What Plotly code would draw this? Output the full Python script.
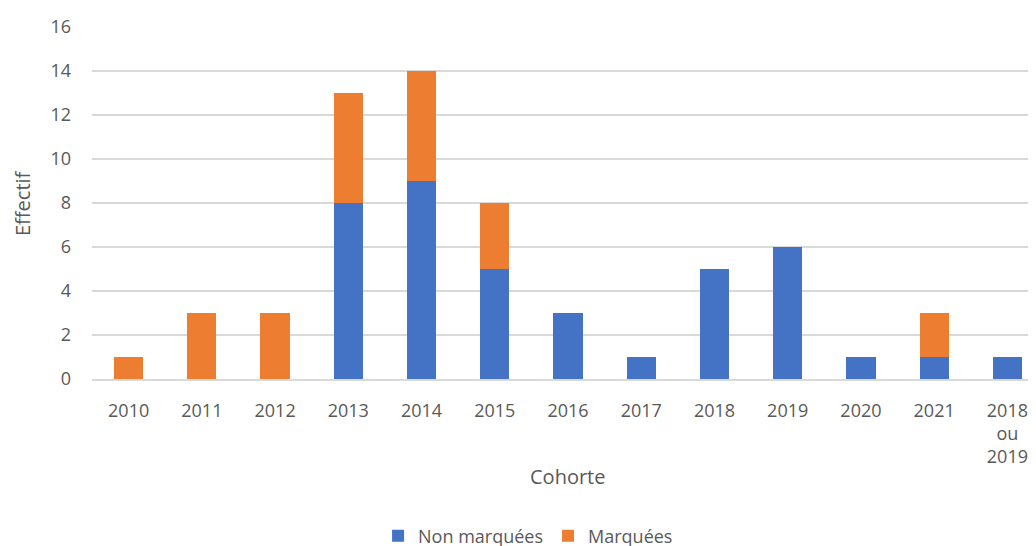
import plotly.graph_objects as go

cohortes = ["2010", "2011", "2012", "2013", "2014", "2015", "2016",
            "2017", "2018", "2019", "2020", "2021", "2018<br>ou<br>2019"]
non_marquees = [0, 0, 0, 8, 9, 5, 3, 1, 5, 6, 1, 1, 1]
marquees = [1, 3, 3, 5, 5, 3, 0, 0, 0, 0, 0, 2, 0]

BLUE = "#4472C4"
ORANGE = "#ED7D31"
GRID = "#D9D9D9"
TXT = "#595959"
FONT = "Open Sans"

fig = go.Figure()

fig.add_trace(go.Bar(
    x=cohortes,
    y=non_marquees,
    name="Non marquées",
    marker=dict(color=BLUE, line=dict(width=0)),
))
fig.add_trace(go.Bar(
    x=cohortes,
    y=marquees,
    name="Marquées",
    marker=dict(color=ORANGE, line=dict(width=0)),
))

# axis titles placed by hand (page has an 8px body offset)
fig.add_annotation(
    text="Cohorte", xref="paper", yref="paper",
    x=0.499, y=-0.276,
    showarrow=False, font=dict(family=FONT, size=20, color=TXT),
    xanchor="center", yanchor="middle",
)
fig.add_annotation(
    text="Effectif", xref="paper", yref="paper",
    x=-70 / 952, y=0.5, textangle=-90,
    showarrow=False, font=dict(family=FONT, size=20, color=TXT),
    xanchor="center", yanchor="middle",
)

fig.update_layout(
    barmode="stack",
    bargap=0.6,
    width=1036,
    height=546,
    margin=dict(l=84, r=0, t=19, b=175),
    plot_bgcolor="white",
    paper_bgcolor="white",
    font=dict(family=FONT, size=18, color=TXT),
    showlegend=True,
    legend=dict(
        orientation="h",
        traceorder="normal",
        xref="container", yref="container",
        x=0.502, y=0.033,
        xanchor="center", yanchor="middle",
        font=dict(family=FONT, size=18, color=TXT),
        itemwidth=30,
    ),
    xaxis=dict(
        range=[-0.5, 12.5],
        showgrid=False,
        showline=True,
        linecolor=GRID,
        linewidth=2,
        ticks="",
        ticklabelstandoff=14,
        tickfont=dict(family=FONT, size=18, color=TXT),
    ),
    yaxis=dict(
        range=[0, 16],
        dtick=2,
        showgrid=True,
        gridcolor=GRID,
        gridwidth=2,
        zeroline=False,
        showline=False,
        ticks="",
        ticklabelstandoff=20,
        tickfont=dict(family=FONT, size=18, color=TXT),
    ),
)

fig.write_html("out.html")
